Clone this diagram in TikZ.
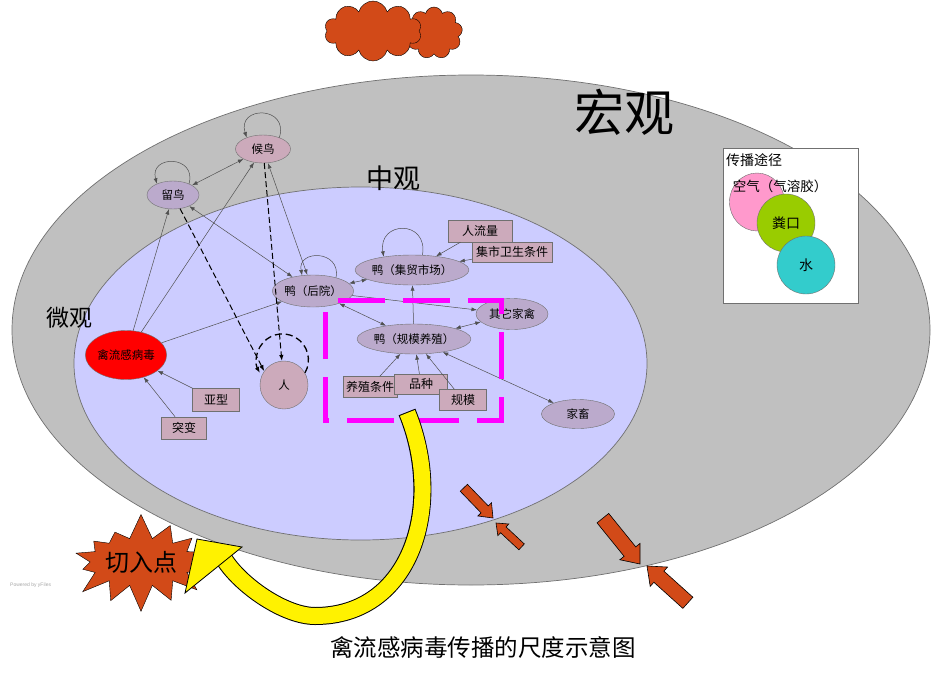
\documentclass[tikz,border=0pt]{standalone}
\usepackage{fontspec}
\newfontfamily\cjk{Noto Sans CJK SC}
\newfontfamily\latsans{Liberation Sans}
\usetikzlibrary{arrows.meta, shapes.geometric, shapes.symbols}
\newcommand\fsz[1]{\fontsize{#1}{#1}\selectfont}
\definecolor{macrogray}{HTML}{C0C0C0}
\definecolor{mesoblue}{HTML}{CCCCFF}
\definecolor{birdpurple}{HTML}{BBAACC}
\definecolor{mauve}{HTML}{CCAABB}
\definecolor{rust}{HTML}{D24A18}
\definecolor{edgegray}{HTML}{505050}
\definecolor{rimgray}{HTML}{707070}
\definecolor{framemagenta}{HTML}{FF00FF}
\definecolor{airpink}{HTML}{FF99CC}
\definecolor{fecalgreen}{HTML}{99CC00}
\definecolor{watercyan}{HTML}{33CCCC}
\tikzset{
  host/.style={ellipse, draw=rimgray, fill=birdpurple, inner sep=0pt,
               font=\cjk\fsz{11.5}},
  factor/.style={rectangle, draw=rimgray, fill=mauve, inner sep=0pt,
                 minimum height=21pt, font=\cjk\fsz{12}},
  spread/.style={draw=edgegray, line width=0.5pt, -{Latex[length=5.5pt,width=4pt]}},
  bispread/.style={draw=edgegray, line width=0.5pt,
                   {Latex[length=5.5pt,width=4pt]}-{Latex[length=5.5pt,width=4pt]}},
  dspread/.style={draw=black, line width=1pt, dash pattern=on 6pt off 3pt,
                  -{Latex[length=6pt,width=4.5pt]}},
  scalelabel/.style={inner sep=0pt},
  legendtext/.style={inner sep=0pt, font=\cjk\fsz{14}},
  legendball/.style={ellipse, draw=rimgray, minimum width=58pt, minimum height=58pt,
                     inner sep=0pt, font=\cjk\fsz{14}},
}

\begin{document}
\begin{tikzpicture}[x=1pt, y=-1pt]
  \useasboundingbox (0,0) rectangle (951,675);
  % scales
  \filldraw[fill=macrogray, draw=rimgray, line width=0.7pt] (471,330) ellipse [x radius=459, y radius=255];
  \filldraw[fill=mesoblue, draw=rimgray, line width=0.7pt] (360.5,363.5) ellipse [x radius=286.5, y radius=176.5];
  \node[scalelabel, font=\cjk\fsz{50}] (macro) at (624,112) {宏观};
  \node[scalelabel, font=\cjk\fsz{27}] (meso) at (393,178) {中观};
  \node[scalelabel, font=\cjk\fsz{23}] (micro) at (69,318) {微观};

  % clouds
  \node[cloud, cloud puffs=9, aspect=1.1, fill=rust, draw=black, inner sep=0pt,
        minimum width=57pt, minimum height=52pt] (cloudr) at (434,33) {};
  \node[cloud, cloud puffs=10, aspect=1.6, fill=rust, draw=black, inner sep=0pt,
        minimum width=97pt, minimum height=60pt] (cloudl) at (373,31) {};

  % hosts
  \node[host, fill=mauve, minimum width=55pt, minimum height=28pt] (hou) at (263,149) {候鸟};
  \node[host, minimum width=52pt, minimum height=28pt] (liu) at (173,195) {留鸟};
  \node[host, minimum width=73pt, minimum height=32pt] (yard) at (313,291) {鸭（后院）};
  \node[host, minimum width=89pt, minimum height=30pt] (market) at (412,270) {鸭（集贸市场）};
  \node[host, minimum width=72pt, minimum height=31pt] (other) at (512,314) {其它家禽};
  \node[host, minimum width=96pt, minimum height=30pt] (farm) at (414,339) {鸭（规模养殖）};
  \node[host, minimum width=73pt, minimum height=29pt] (stock) at (578,414) {家畜};
  \node[host, fill=red, minimum width=74pt, minimum height=49pt] (virus) at (126,355) {禽流感病毒};
  \node[host, fill=mauve, minimum width=48pt, minimum height=48pt] (person) at (284,385) {人};

  % factors
  \node[factor, minimum width=64pt, minimum height=22pt] (crowd) at (480,231) {人流量};
  \node[factor, minimum width=80pt, minimum height=20pt] (hygiene) at (512,252) {集市卫生条件};
  \node[factor, minimum width=54pt] (cond) at (370,387) {养殖条件};
  \node[factor, minimum width=53pt, minimum height=20pt] (breed) at (421,384) {品种};
  \node[factor, minimum width=47pt] (size) at (463,400) {规模};
  \node[factor, minimum width=47pt, minimum height=23pt] (subtype) at (216,400) {亚型};
  \node[factor, minimum width=45pt, minimum height=22pt] (mutation) at (184,428) {突变};

  % transmission links
  \draw[bispread] (hou) -- (liu);
  \draw[spread] (hou.35) .. controls +(10,-32) and +(-10,-32) .. (hou.145);
  \draw[spread] (liu.35) .. controls +(8,-29) and +(-8,-29) .. (liu.145);
  \draw[spread] (yard.30) .. controls +(5,-28) and +(-5,-26) .. (yard.125);
  \draw[spread] (market.55) .. controls +(6,-36) and +(-6,-36) .. (market.155);
  \draw[spread] (virus) -- (liu);
  \draw[spread] (virus) -- (hou);
  \draw[spread] (virus) -- (yard);
  \draw[bispread] (liu) -- (yard);
  \draw[bispread] (yard) -- (hou);
  \draw[dspread] (liu) -- (person.145);
  \draw[dspread] (hou) -- (person);
  \draw[dspread, line width=1.3pt, dash pattern=on 7pt off 4pt] (person.30) arc[start angle=30, end angle=-210, radius=26];
  \draw[bispread] (yard) -- (market);
  \draw[spread] (crowd) -- (market);
  \draw[spread] (hygiene) -- (market);
  \draw[spread] (farm) -- (market);
  \draw[spread] (yard) -- (other);
  \draw[bispread] (yard) -- (farm);
  \draw[bispread] (farm) -- (other);
  \draw[bispread] (farm) -- (stock);
  \draw[spread] (cond) -- (farm);
  \draw[spread] (breed) -- (farm);
  \draw[spread] (size) -- (farm);
  \draw[spread] (subtype) -- (virus);
  \draw[spread] (mutation) -- (virus);

  % focus frame
  \draw[framemagenta, line width=5pt, dash pattern=on 47pt off 18pt, dash phase=52pt]
    (325,300) -- (501,300) -- (501,420) -- (325,420) -- cycle;

  % legend
  \node[draw=rimgray, fill=white, anchor=north west, inner sep=0pt,
        minimum width=135pt, minimum height=155pt] (legend) at (723,148) {};
  \node[legendtext, anchor=west] (legtitle) at (726,160) {传播途径};
  \node[legendball, fill=airpink, minimum width=55pt] (air) at (757,202) {};
  \node[legendtext, font=\cjk\fsz{13.5}] (airlabel) at (780,186) {空气（气溶胶）};
  \node[legendball, fill=fecalgreen] (fecal) at (786,223) {粪口};
  \node[legendball, fill=watercyan] (water) at (806,265) {水};

  % entry point
  \node[starburst, starburst points=14, starburst point height=26pt, random starburst=7,
        fill=rust, draw=black, inner sep=0pt, minimum width=116pt, minimum height=100pt,
        font=\cjk\fsz{24}] (entry) at (141,562) {切入点};
  \draw[black, line width=18pt]
    (407,412) .. controls (445,505) and (412,616) .. (315,616)
    .. controls (285,616) and (241,586) .. (224,559);
  \draw[yellow, line width=16pt, shorten <=1pt]
    (407,412) .. controls (445,505) and (412,616) .. (315,616)
    .. controls (285,616) and (241,586) .. (224,559);
  \filldraw[fill=yellow, draw=black, line width=0.8pt] (197,539) -- (242,547) -- (185,593) -- cycle;

  % pressure arrows
  \foreach \tx/\ty/\ang/\len/\sw/\hw/\hl in
    {493/518/-46/42/5/9.5/12, 496/523/137/35/4/8/10,
     640/564/-51/59/7.5/13/16, 647/566/138/55/7.5/13/16}
    \filldraw[fill=rust, draw=black, line width=0.6pt, shift={(\tx,\ty)}, rotate=\ang]
      (0,0) -- (-\hl,\hw) -- (-\hl,\sw) -- (-\len,\sw) -- (-\len,-\sw)
      -- (-\hl,-\sw) -- (-\hl,-\hw) -- cycle;

  \node[anchor=west, inner sep=0pt, text=black!35, font=\latsans\fsz{5}] (yfiles) at (10,585) {Powered by yFiles};
  \node[inner sep=0pt, font=\cjk\fsz{23.5}] (caption) at (483,648) {禽流感病毒传播的尺度示意图};
\end{tikzpicture}
\end{document}
